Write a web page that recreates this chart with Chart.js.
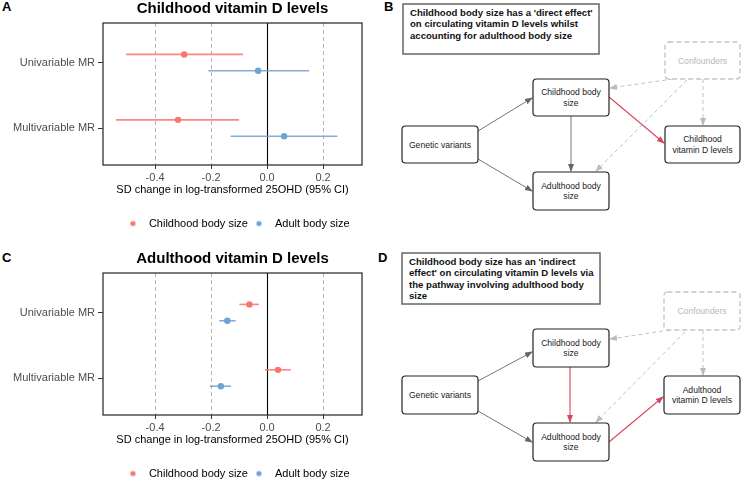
<!DOCTYPE html>
<html>
<head>
<meta charset="utf-8">
<script src="https://cdn.jsdelivr.net/npm/chart.js@4.4.1/dist/chart.umd.min.js"></script>
<style>
  body { margin: 0; width: 741px; height: 479px; position: relative; overflow: hidden; background: #fff;
         font-family: "Liberation Sans", Arial, sans-serif; }
  .panel { position: absolute; }
  .tag { position: absolute; font: bold 13px "Liberation Sans", Arial, sans-serif; line-height: 13px; color: #000; }
  svg text { font-family: "Liberation Sans", Arial, sans-serif; }
</style>
</head>
<body>
<div class="tag" style="left:2px;top:0px">A</div>
<div class="tag" style="left:2px;top:251px">C</div>
<div class="tag" style="left:384px;top:0px">B</div>
<div class="tag" style="left:378px;top:251px">D</div>

<div class="panel" style="left:0;top:0;width:370px;height:240px"><canvas id="chartA" width="370" height="240"></canvas></div>
<div class="panel" style="left:0;top:250px;width:370px;height:240px"><canvas id="chartC" width="370" height="240"></canvas></div>

<svg class="panel" style="left:370px;top:0" width="371" height="479" viewBox="0 0 371 479">
  <defs>
    <marker id="mGray" markerUnits="userSpaceOnUse" markerWidth="8" markerHeight="6" refX="7" refY="3" orient="auto">
      <path d="M0,0 L8,3 L0,6 z" fill="#666"/>
    </marker>
    <marker id="mRed" markerUnits="userSpaceOnUse" markerWidth="8" markerHeight="6" refX="7" refY="3" orient="auto">
      <path d="M0,0 L8,3 L0,6 z" fill="#d9475f"/>
    </marker>
    <marker id="mLight" markerUnits="userSpaceOnUse" markerWidth="8" markerHeight="6" refX="7" refY="3" orient="auto">
      <path d="M0,0 L8,3 L0,6 z" fill="#bbb"/>
    </marker>
  </defs>
  <g id="dagB"></g>
  <g id="dagD"></g>
</svg>

<script>
Chart.defaults.font.family = '"Liberation Sans", Arial, sans-serif';
Chart.defaults.color = '#000';

// forest plot data (SD change in log-transformed 25OHD, 95% CI)
const categories = ['Univariable MR', 'Multivariable MR'];
const seriesNames = ['Childhood body size', 'Adult body size'];
const xTicks = [-0.4, -0.2, 0.0, 0.2];

// A: childhood vitamin D levels
const childA = [-0.296, -0.318];
const childA_lo = [-0.504, -0.540];
const childA_hi = [-0.086, -0.100];
const adultA = [-0.032, 0.061];
const adultA_lo = [-0.210, -0.130];
const adultA_hi = [0.150, 0.251];

// C: adulthood vitamin D levels
const childC = [-0.063, 0.039];
const childC_lo = [-0.099, -0.007];
const childC_hi = [-0.029, 0.085];
const adultC = [-0.142, -0.165];
const adultC_lo = [-0.171, -0.204];
const adultC_hi = [-0.112, -0.129];

const colChild = '#f8766d';
const colAdult = '#6fa3d3';
const dodge = [-0.13, 0.12];

function dotImage(color) {
  const c = document.createElement('canvas');
  c.width = 14; c.height = 8;
  const g = c.getContext('2d');
  g.fillStyle = color;
  g.beginPath(); g.arc(3.5, 4, 2.6, 0, Math.PI * 2); g.fill();
  return c;
}

const frame = {
  id: 'frame',
  afterLayout(chart) {
    // ggplot centres title and legend over the panel, not the whole canvas
    const a = chart.chartArea;
    chart.titleBlock.left = a.left;
    chart.titleBlock.right = a.right;
    chart.legend.left = a.left + 7;
    chart.legend.right = a.right + 7;
  },
  beforeDatasetsDraw(chart) {
    const { ctx, chartArea: a, scales: { x } } = chart;
    ctx.save();
    xTicks.forEach(v => {
      const px = Math.round(x.getPixelForValue(v)) + 0.5;
      ctx.beginPath();
      if (v === 0) { ctx.strokeStyle = '#000'; ctx.setLineDash([]); ctx.lineWidth = 1.1; }
      else { ctx.strokeStyle = '#b5b5b5'; ctx.setLineDash([4, 3]); ctx.lineWidth = 1; }
      ctx.moveTo(px, a.top); ctx.lineTo(px, a.bottom); ctx.stroke();
    });
    ctx.restore();
  },
  afterDatasetsDraw(chart) {
    const { ctx, chartArea: a } = chart;
    ctx.save();
    ctx.strokeStyle = '#333'; ctx.lineWidth = 1.3;
    ctx.strokeRect(a.left, a.top, a.right - a.left, a.bottom - a.top);
    ctx.restore();
  }
};

function forest(id, title, est1, lo1, hi1, est2, lo2, hi2) {
  const datasets = [];
  const groups = [[est1, lo1, hi1, colChild, seriesNames[0]], [est2, lo2, hi2, colAdult, seriesNames[1]]];
  groups.forEach(([est, lo, hi, col], g) => {
    categories.forEach((c, i) => {
      const y = i + 1 + dodge[g];
      datasets.push({ label: 'ci', data: [{ x: lo[i], y }, { x: hi[i], y }], showLine: true,
        borderColor: col + 'dd', borderWidth: 1.6, pointRadius: 0 });
    });
  });
  groups.forEach(([est, lo, hi, col, name], g) => {
    datasets.push({ label: name, data: est.map((v, i) => ({ x: v, y: i + 1 + dodge[g] })),
      backgroundColor: col, borderWidth: 0, pointRadius: 3.2, pointStyle: 'circle', legendDot: dotImage(col) });
  });

  return new Chart(document.getElementById(id), {
    type: 'scatter',
    data: { datasets },
    options: {
      responsive: false,
      animation: false,
      devicePixelRatio: 1,
      layout: { padding: { left: 0, right: 8, top: 0, bottom: 1 } },
      plugins: {
        tooltip: { enabled: false },
        title: { display: true, text: title, font: { size: 15, weight: 'bold' }, color: '#000',
                 padding: { top: 0, bottom: 5 } },
        legend: {
          position: 'bottom',
          labels: {
            font: { size: 11 }, color: '#000', usePointStyle: true, pointStyleWidth: 14, boxHeight: 8, padding: 7.5,
            generateLabels: chart => chart.data.datasets.map((d, i) => ({
              text: d.label, pointStyle: d.legendDot, datasetIndex: i, hidden: false,
              fillStyle: d.backgroundColor, strokeStyle: d.backgroundColor, lineWidth: 0
            })).filter(l => l.text !== 'ci')
          }
        }
      },
      scales: {
        x: {
          min: -0.586, max: 0.339,
          afterBuildTicks: s => { s.ticks = xTicks.map(v => ({ value: v })); },
          afterFit: s => { s.height = 45.5; },
          ticks: { callback: v => v.toFixed(1), font: { size: 11 }, color: '#4d4d4d', padding: 2, maxRotation: 0 },
          grid: { drawOnChartArea: false, tickLength: 4, color: '#333' },
          border: { display: false },
          title: { display: true, text: 'SD change in log-transformed 25OHD (95% CI)', font: { size: 11 },
                   color: '#000', padding: { top: 0, bottom: 13.5 } }
        },
        y: {
          reverse: true, min: 0.39, max: 2.56,
          afterBuildTicks: s => { s.ticks = categories.map((c, i) => ({ value: i + 1 })); },
          afterFit: s => { s.width = 103; },
          ticks: { callback: v => categories[v - 1], font: { size: 11 }, color: '#4d4d4d', padding: 3 },
          grid: { drawOnChartArea: false, tickLength: 5, color: '#333' },
          border: { display: false }
        }
      }
    },
    plugins: [frame]
  });
}

forest('chartA', 'Childhood vitamin D levels', childA, childA_lo, childA_hi, adultA, adultA_lo, adultA_hi);
forest('chartC', 'Adulthood vitamin D levels', childC, childC_lo, childC_hi, adultC, adultC_lo, adultC_hi);

// DAG diagrams (B and D)
const NS = 'http://www.w3.org/2000/svg';
function el(parent, tag, attrs, text) {
  const e = document.createElementNS(NS, tag);
  for (const k in attrs) e.setAttribute(k, attrs[k]);
  if (text !== undefined) e.textContent = text;
  parent.appendChild(e);
  return e;
}
function node(g, x, y, w, h, lines, faint) {
  el(g, 'rect', { x, y, width: w, height: h, rx: 3.5, fill: '#fff',
    stroke: faint ? '#c4c4c4' : '#222', 'stroke-width': faint ? 1.3 : 1.2,
    'stroke-dasharray': faint ? '5 3' : 'none' });
  const lh = 10.5;
  const y0 = y + h / 2 - (lines.length - 1) * lh / 2;
  lines.forEach((t, i) => el(g, 'text', { x: x + w / 2, y: y0 + i * lh, 'text-anchor': 'middle',
    'dominant-baseline': 'central', 'font-size': 8.6, fill: faint ? '#b8b8b8' : '#222' }, t));
}
function arrow(g, x1, y1, x2, y2, kind) {
  const col = { gray: '#666', red: '#d9475f', light: '#bbb' }[kind];
  const mk = { gray: 'mGray', red: 'mRed', light: 'mLight' }[kind];
  el(g, 'line', { x1, y1, x2, y2, stroke: col, 'stroke-width': kind === 'red' ? 1.1 : 0.9,
    'stroke-dasharray': kind === 'light' ? '4 3' : 'none', 'marker-end': `url(#${mk})` });
}
function caption(g, x, y, w, h, lines) {
  el(g, 'rect', { x, y, width: w, height: h, fill: '#fff', stroke: '#666', 'stroke-width': 1.5 });
  lines.forEach((t, i) => el(g, 'text', { x: x + 7, y: y + 12 + i * 11.4, 'font-size': 9.6,
    'font-weight': 'bold', fill: '#111', 'xml:space': 'preserve' }, t));
}

const gB = document.getElementById('dagB');
caption(gB, 33, 4, 196, 50, ["  Childhood body size has a 'direct effect'",
  'on circulating vitamin D levels whilst', 'accounting for adulthood body size']);
arrow(gB, 108, 131, 162, 98, 'gray');
arrow(gB, 108, 159, 162, 191, 'gray');
arrow(gB, 201, 116, 201, 171, 'gray');
arrow(gB, 239, 97, 294, 143, 'red');
arrow(gB, 303, 79, 240, 88, 'light');
arrow(gB, 317, 80, 226, 171, 'light');
arrow(gB, 333, 79, 333, 125, 'light');
node(gB, 295, 42, 75, 37, ['Confounders'], true);
node(gB, 163, 79, 76, 37, ['Childhood body', 'size']);
node(gB, 32, 126, 76, 37, ['Genetic variants']);
node(gB, 295, 126, 75, 37, ['Childhood', 'vitamin D levels']);
node(gB, 163, 172, 76, 38, ['Adulthood body', 'size']);

const gD = document.getElementById('dagD');
caption(gD, 32, 253, 198, 51, ["  Childhood body size has an 'indirect",
  "effect' on circulating vitamin D levels via", 'the pathway involving adulthood body', 'size']);
arrow(gD, 108, 381, 162, 352, 'gray');
arrow(gD, 108, 411, 162, 442, 'gray');
arrow(gD, 200, 367, 200, 422, 'red');
arrow(gD, 239, 442, 293, 397, 'red');
arrow(gD, 300, 330, 240, 339, 'light');
arrow(gD, 315, 332, 226, 422, 'light');
arrow(gD, 333, 330, 333, 375, 'light');
node(gD, 294, 292, 76, 38, ['Confounders'], true);
node(gD, 163, 329, 76, 38, ['Childhood body', 'size']);
node(gD, 32, 376, 76, 38, ['Genetic variants']);
node(gD, 294, 376, 76, 38, ['Adulthood', 'vitamin D levels']);
node(gD, 163, 423, 76, 38, ['Adulthood body', 'size']);
</script>
</body>
</html>
